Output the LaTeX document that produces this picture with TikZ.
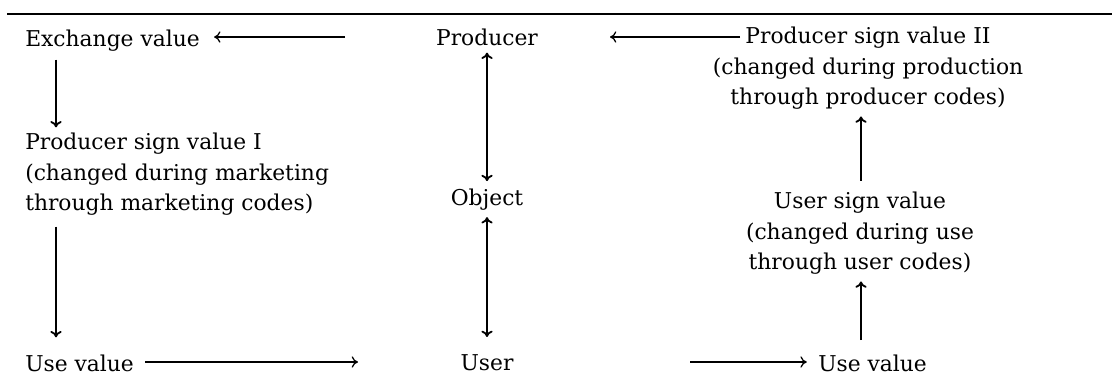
\documentclass[tikz,border=0pt]{standalone}
\usepackage{fontspec}
\setmainfont{DejaVu Serif}
\usetikzlibrary{arrows.meta,positioning}
\tikzset{
  lbl/.style={inner sep=0pt, font=\fontsize{15.5}{21.5}\selectfont},
  blk/.style={lbl, align=center},
  lblk/.style={lbl, align=left},
  link/.style={-{To[length=4.5pt,width=8pt]}, line width=0.9pt},
  vlink/.style={link, line width=1.3pt},
  twoway/.style={{To[length=4.5pt,width=8pt]}-{To[length=4.5pt,width=8pt]}, line width=1.3pt},
}
\begin{document}
\begin{tikzpicture}[x=0.025cm, y=-0.025cm]
  \useasboundingbox (0,0) rectangle (1112,377);
  % heavy rule at the top
  \draw[line width=2pt] (7,14) -- (1112,14);

  % left column
  \node[lbl, anchor=base west] (exch) at (25,46) {Exchange value};
  \node[lblk, anchor=north west] (psv1) at (25,133)
    {Producer sign value I\\(changed during marketing\\through marketing codes)};
  \node[lbl, anchor=base west] (use1) at (25,371) {Use value};
  \coordinate (colL) at (56,0);

  % middle column
  \node[lbl, anchor=base] (prod) at (487,45) {Producer};
  \node[lbl, anchor=base] (obj) at (487,205) {Object};
  \node[lbl, anchor=base] (user) at (487,370) {User};

  % right column
  \node[blk, anchor=north] (psv2) at (868,27)
    {Producer sign value II\\(changed during production\\through producer codes)};
  \node[blk, anchor=north] (usv) at (860,192)
    {User sign value\\(changed during use\\through user codes)};
  \node[lbl, anchor=base west] (use2) at (818,371) {Use value};
  \coordinate (colR) at (861,0);

  % free ends of the horizontal arrows
  \coordinate (ex0) at (345,37);
  \coordinate (pv0) at (740,37);
  \coordinate (pv1) at (610,37);
  \coordinate (u1) at (358,362);
  \coordinate (u2) at (690,362);

  % connectors
  \draw[link] (ex0) -- (exch.east |- ex0) [shorten >=10];
  \draw[link] (pv0) -- (pv1);
  \draw[link] (use1.east |- u1) [shorten <=8] -- (u1);
  \draw[link] (u2) -- (use2.west |- u2) [shorten >=8];

  \draw[vlink, shorten <=6, shorten >=4] (exch.south -| colL) -- (psv1.north -| colL);
  \draw[vlink, shorten <=8, shorten >=12] (psv1.south -| colL) -- (use1.north -| colL);

  \draw[twoway, shorten <=5, shorten >=5] (prod.south) -- (obj.north);
  \draw[twoway, shorten <=5, shorten >=12] (obj.south) -- (user.north);

  \draw[vlink, shorten <=8, shorten >=5] (usv.north -| colR) -- (psv2.south -| colR);
  \draw[vlink, shorten <=10, shorten >=5] (use2.north -| colR) -- (usv.south -| colR);
\end{tikzpicture}
\end{document}
